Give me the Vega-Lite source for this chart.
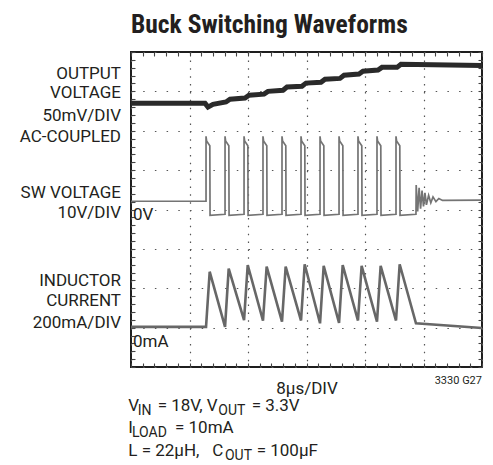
{
  "$schema": "https://vega.github.io/schema/vega-lite/v6.json",
  "autosize": {"type": "none"},
  "padding": {"left": 131, "top": 52, "right": 11, "bottom": 98},
  "width": 351,
  "height": 315,
  "background": "white",
  "title": {
    "text": "Buck Switching Waveforms",
    "anchor": "start",
    "frame": "group",
    "font": "Roboto Condensed, Roboto, sans-serif",
    "fontSize": 25.5,
    "fontWeight": "bold",
    "color": "#231f20",
    "offset": 13
  },
  "config": {
    "view": {"stroke": "#1e1e1e", "strokeWidth": 2},
    "font": "Roboto, sans-serif"
  },
  "datasets": {
    "traces": [
      {"s": "Vout", "i": 0, "t": 0, "v": 6.70},
      {"s": "Vout", "i": 1, "t": 10.12, "v": 6.70},
      {"s": "Vout", "i": 2, "t": 10.53, "v": 6.60},
      {"s": "Vout", "i": 3, "t": 11.21, "v": 6.67},
      {"s": "Vout", "i": 4, "t": 12.99, "v": 6.73},
      {"s": "Vout", "i": 5, "t": 13.54, "v": 6.80},
      {"s": "Vout", "i": 6, "t": 15.59, "v": 6.83},
      {"s": "Vout", "i": 7, "t": 16.14, "v": 6.90},
      {"s": "Vout", "i": 8, "t": 18.19, "v": 6.93},
      {"s": "Vout", "i": 9, "t": 18.73, "v": 7.00},
      {"s": "Vout", "i": 10, "t": 20.79, "v": 7.03},
      {"s": "Vout", "i": 11, "t": 21.33, "v": 7.11},
      {"s": "Vout", "i": 12, "t": 23.38, "v": 7.13},
      {"s": "Vout", "i": 13, "t": 23.93, "v": 7.21},
      {"s": "Vout", "i": 14, "t": 25.98, "v": 7.23},
      {"s": "Vout", "i": 15, "t": 26.53, "v": 7.31},
      {"s": "Vout", "i": 16, "t": 28.58, "v": 7.33},
      {"s": "Vout", "i": 17, "t": 29.13, "v": 7.41},
      {"s": "Vout", "i": 18, "t": 31.18, "v": 7.44},
      {"s": "Vout", "i": 19, "t": 31.72, "v": 7.51},
      {"s": "Vout", "i": 20, "t": 33.78, "v": 7.54},
      {"s": "Vout", "i": 21, "t": 34.32, "v": 7.61},
      {"s": "Vout", "i": 22, "t": 36.38, "v": 7.61},
      {"s": "Vout", "i": 23, "t": 36.92, "v": 7.69},
      {"s": "Vout", "i": 24, "t": 48, "v": 7.66},

      {"s": "SW", "i": 0, "t": 0, "v": 4.21},
      {"s": "SW", "i": 1, "t": 10.26, "v": 4.21},
      {"s": "SW", "i": 2, "t": 10.26, "v": 5.86},
      {"s": "SW", "i": 3, "t": 10.34, "v": 5.74},
      {"s": "SW", "i": 4, "t": 10.78, "v": 5.62},
      {"s": "SW", "i": 5, "t": 10.81, "v": 3.85},
      {"s": "SW", "i": 6, "t": 12.86, "v": 3.88},
      {"s": "SW", "i": 7, "t": 12.86, "v": 5.86},
      {"s": "SW", "i": 8, "t": 12.94, "v": 5.74},
      {"s": "SW", "i": 9, "t": 13.38, "v": 5.62},
      {"s": "SW", "i": 10, "t": 13.41, "v": 3.85},
      {"s": "SW", "i": 11, "t": 15.46, "v": 3.88},
      {"s": "SW", "i": 12, "t": 15.46, "v": 5.86},
      {"s": "SW", "i": 13, "t": 15.54, "v": 5.74},
      {"s": "SW", "i": 14, "t": 15.98, "v": 5.62},
      {"s": "SW", "i": 15, "t": 16.01, "v": 3.85},
      {"s": "SW", "i": 16, "t": 18.05, "v": 3.88},
      {"s": "SW", "i": 17, "t": 18.05, "v": 5.86},
      {"s": "SW", "i": 18, "t": 18.13, "v": 5.74},
      {"s": "SW", "i": 19, "t": 18.57, "v": 5.62},
      {"s": "SW", "i": 20, "t": 18.60, "v": 3.85},
      {"s": "SW", "i": 21, "t": 20.65, "v": 3.88},
      {"s": "SW", "i": 22, "t": 20.65, "v": 5.86},
      {"s": "SW", "i": 23, "t": 20.73, "v": 5.74},
      {"s": "SW", "i": 24, "t": 21.17, "v": 5.62},
      {"s": "SW", "i": 25, "t": 21.20, "v": 3.85},
      {"s": "SW", "i": 26, "t": 23.25, "v": 3.88},
      {"s": "SW", "i": 27, "t": 23.25, "v": 5.86},
      {"s": "SW", "i": 28, "t": 23.33, "v": 5.74},
      {"s": "SW", "i": 29, "t": 23.77, "v": 5.62},
      {"s": "SW", "i": 30, "t": 23.80, "v": 3.85},
      {"s": "SW", "i": 31, "t": 25.85, "v": 3.88},
      {"s": "SW", "i": 32, "t": 25.85, "v": 5.86},
      {"s": "SW", "i": 33, "t": 25.93, "v": 5.74},
      {"s": "SW", "i": 34, "t": 26.37, "v": 5.62},
      {"s": "SW", "i": 35, "t": 26.40, "v": 3.85},
      {"s": "SW", "i": 36, "t": 28.45, "v": 3.88},
      {"s": "SW", "i": 37, "t": 28.45, "v": 5.86},
      {"s": "SW", "i": 38, "t": 28.53, "v": 5.74},
      {"s": "SW", "i": 39, "t": 28.97, "v": 5.62},
      {"s": "SW", "i": 40, "t": 29.00, "v": 3.85},
      {"s": "SW", "i": 41, "t": 31.04, "v": 3.88},
      {"s": "SW", "i": 42, "t": 31.04, "v": 5.86},
      {"s": "SW", "i": 43, "t": 31.12, "v": 5.74},
      {"s": "SW", "i": 44, "t": 31.56, "v": 5.62},
      {"s": "SW", "i": 45, "t": 31.59, "v": 3.85},
      {"s": "SW", "i": 46, "t": 33.64, "v": 3.88},
      {"s": "SW", "i": 47, "t": 33.64, "v": 5.86},
      {"s": "SW", "i": 48, "t": 33.72, "v": 5.74},
      {"s": "SW", "i": 49, "t": 34.16, "v": 5.62},
      {"s": "SW", "i": 50, "t": 34.19, "v": 3.85},
      {"s": "SW", "i": 51, "t": 36.24, "v": 3.88},
      {"s": "SW", "i": 52, "t": 36.24, "v": 5.86},
      {"s": "SW", "i": 53, "t": 36.32, "v": 5.74},
      {"s": "SW", "i": 54, "t": 36.76, "v": 5.62},
      {"s": "SW", "i": 55, "t": 36.79, "v": 3.85},
      {"s": "SW", "i": 56, "t": 38.97, "v": 3.88},
      {"s": "SW", "i": 57, "t": 39.0, "v": 4.62},
      {"s": "SW", "i": 58, "t": 39.2, "v": 3.95},
      {"s": "SW", "i": 59, "t": 39.4, "v": 4.55},
      {"s": "SW", "i": 60, "t": 39.6, "v": 4.02},
      {"s": "SW", "i": 61, "t": 39.8, "v": 4.48},
      {"s": "SW", "i": 62, "t": 40.0, "v": 4.08},
      {"s": "SW", "i": 63, "t": 40.2, "v": 4.42},
      {"s": "SW", "i": 64, "t": 40.4, "v": 4.12},
      {"s": "SW", "i": 65, "t": 40.7, "v": 4.36},
      {"s": "SW", "i": 66, "t": 41.0, "v": 4.17},
      {"s": "SW", "i": 67, "t": 41.3, "v": 4.32},
      {"s": "SW", "i": 68, "t": 41.7, "v": 4.20},
      {"s": "SW", "i": 69, "t": 42.1, "v": 4.28},
      {"s": "SW", "i": 70, "t": 42.6, "v": 4.23},
      {"s": "SW", "i": 71, "t": 48, "v": 4.24},

      {"s": "IL", "i": 0, "t": 0, "v": 1.02},
      {"s": "IL", "i": 1, "t": 10.26, "v": 1.02},
      {"s": "IL", "i": 2, "t": 10.76, "v": 2.42},
      {"s": "IL", "i": 3, "t": 12.86, "v": 1.02},
      {"s": "IL", "i": 4, "t": 13.36, "v": 2.50},
      {"s": "IL", "i": 5, "t": 15.46, "v": 1.19},
      {"s": "IL", "i": 6, "t": 15.96, "v": 2.59},
      {"s": "IL", "i": 7, "t": 18.05, "v": 1.18},
      {"s": "IL", "i": 8, "t": 18.55, "v": 2.55},
      {"s": "IL", "i": 9, "t": 20.65, "v": 1.15},
      {"s": "IL", "i": 10, "t": 21.15, "v": 2.55},
      {"s": "IL", "i": 11, "t": 23.25, "v": 1.18},
      {"s": "IL", "i": 12, "t": 23.75, "v": 2.61},
      {"s": "IL", "i": 13, "t": 25.85, "v": 1.11},
      {"s": "IL", "i": 14, "t": 26.35, "v": 2.57},
      {"s": "IL", "i": 15, "t": 28.45, "v": 1.12},
      {"s": "IL", "i": 16, "t": 28.95, "v": 2.59},
      {"s": "IL", "i": 17, "t": 31.04, "v": 1.18},
      {"s": "IL", "i": 18, "t": 31.54, "v": 2.57},
      {"s": "IL", "i": 19, "t": 33.64, "v": 1.15},
      {"s": "IL", "i": 20, "t": 34.14, "v": 2.57},
      {"s": "IL", "i": 21, "t": 36.24, "v": 1.18},
      {"s": "IL", "i": 22, "t": 36.74, "v": 2.61},
      {"s": "IL", "i": 23, "t": 38.97, "v": 1.11},
      {"s": "IL", "i": 24, "t": 48, "v": 0.99}
    ],
    "notes": [
      {"role": "left", "text": "OUTPUT", "x": -1.37, "y": 7.45},
      {"role": "left", "text": "VOLTAGE", "x": -1.37, "y": 6.95},
      {"role": "left", "text": "50mV/DIV", "x": -1.37, "y": 6.37},
      {"role": "left", "text": "AC-COUPLED", "x": -1.37, "y": 5.83},
      {"role": "left", "text": "SW VOLTAGE", "x": -1.37, "y": 4.42},
      {"role": "left", "text": "10V/DIV", "x": -1.37, "y": 3.90},
      {"role": "left", "text": "INDUCTOR", "x": -1.37, "y": 2.19},
      {"role": "left", "text": "CURRENT", "x": -1.37, "y": 1.68},
      {"role": "left", "text": "200mA/DIV", "x": -1.37, "y": 1.11},
      {"role": "in", "text": "0V", "x": 0.27, "y": 3.86},
      {"role": "in", "text": "0mA", "x": 0.27, "y": 0.64},
      {"role": "code", "text": "3330 G27", "x": 48, "y": -0.355},
      {"role": "cond", "text": "V", "x": -0.37, "y": -0.99},
      {"role": "sub", "text": "IN", "x": 0.92, "y": -0.99},
      {"role": "cond", "text": "= 18V, V", "x": 3.65, "y": -0.99},
      {"role": "sub", "text": "OUT", "x": 11.94, "y": -0.99},
      {"role": "cond", "text": "= 3.3V", "x": 16.51, "y": -0.99},
      {"role": "cond", "text": "I", "x": -0.37, "y": -1.561},
      {"role": "sub", "text": "LOAD", "x": 0.14, "y": -1.561},
      {"role": "cond", "text": "= 10mA", "x": 6.02, "y": -1.561},
      {"role": "cond", "text": "L = 22µH,", "x": -0.37, "y": -2.132},
      {"role": "cond", "text": "C", "x": 11.12, "y": -2.132},
      {"role": "sub", "text": "OUT", "x": 12.85, "y": -2.132},
      {"role": "cond", "text": "= 100µF", "x": 17.19, "y": -2.132}
    ]
  },
  "layer": [
    {
      "data": {"name": "traces"},
      "transform": [{"filter": "datum.s === 'Vout'"}],
      "mark": {"type": "line", "color": "#2a2a2a", "strokeWidth": 5, "clip": true},
      "encoding": {
        "x": {
          "field": "t", "type": "quantitative",
          "scale": {"domain": [0, 48], "nice": false, "zero": false},
          "axis": {
            "orient": "bottom",
            "values": [0,1.6,3.2,4.8,6.4,8,9.6,11.2,12.8,14.4,16,17.6,19.2,20.8,22.4,24,25.6,27.2,28.8,30.4,32,33.6,35.2,36.8,38.4,40,41.6,43.2,44.8,46.4,48],
            "labels": false, "domain": false,
            "ticks": true, "tickSize": -4, "tickColor": "#444", "tickWidth": 1.1,
            "grid": true, "gridColor": "#555", "gridWidth": 1.2, "gridDash": [1.5, 6.375],
            "gridOpacity": {"condition": {"test": "abs(datum.value/8 - round(datum.value/8)) < 0.01", "value": 1}, "value": 0},
            "title": "8µs/DIV", "titleFont": "Roboto, sans-serif", "titleFontSize": 17, "titleFontWeight": "normal", "titleColor": "#231f20", "titlePadding": 13
          }
        },
        "y": {
          "field": "v", "type": "quantitative",
          "scale": {"domain": [0, 8], "nice": false, "zero": false},
          "axis": {
            "orient": "left",
            "values": [0,0.2,0.4,0.6,0.8,1,1.2,1.4,1.6,1.8,2,2.2,2.4,2.6,2.8,3,3.2,3.4,3.6,3.8,4,4.2,4.4,4.6,4.8,5,5.2,5.4,5.6,5.8,6,6.2,6.4,6.6,6.8,7,7.2,7.4,7.6,7.8,8],
            "labels": false, "domain": false,
            "ticks": true, "tickSize": -4, "tickColor": "#444", "tickWidth": 1.1,
            "grid": true, "gridColor": "#555", "gridWidth": 1.2, "gridDash": [1.5, 10.2],
            "gridOpacity": {"condition": {"test": "abs(datum.value - round(datum.value)) < 0.01", "value": 1}, "value": 0},
            "title": null
          }
        },
        "order": {"field": "i", "type": "quantitative"}
      }
    },
    {
      "data": {"name": "traces"},
      "transform": [{"filter": "datum.s === 'SW'"}],
      "mark": {"type": "line", "color": "#747474", "strokeWidth": 1.7, "clip": true},
      "encoding": {
        "x": {
          "field": "t", "type": "quantitative",
          "axis": {
            "orient": "top",
            "values": [0,1.6,3.2,4.8,6.4,8,9.6,11.2,12.8,14.4,16,17.6,19.2,20.8,22.4,24,25.6,27.2,28.8,30.4,32,33.6,35.2,36.8,38.4,40,41.6,43.2,44.8,46.4,48],
            "labels": false, "domain": false, "grid": false,
            "ticks": true, "tickSize": -4, "tickColor": "#444", "tickWidth": 1.1, "title": null
          }
        },
        "y": {
          "field": "v", "type": "quantitative",
          "axis": {
            "orient": "right",
            "values": [0,0.2,0.4,0.6,0.8,1,1.2,1.4,1.6,1.8,2,2.2,2.4,2.6,2.8,3,3.2,3.4,3.6,3.8,4,4.2,4.4,4.6,4.8,5,5.2,5.4,5.6,5.8,6,6.2,6.4,6.6,6.8,7,7.2,7.4,7.6,7.8,8],
            "labels": false, "domain": false, "grid": false,
            "ticks": true, "tickSize": -4, "tickColor": "#444", "tickWidth": 1.1, "title": null
          }
        },
        "order": {"field": "i", "type": "quantitative"}
      }
    },
    {
      "data": {"name": "traces"},
      "transform": [{"filter": "datum.s === 'IL'"}],
      "mark": {"type": "line", "color": "#676767", "strokeWidth": 2.6, "clip": true},
      "encoding": {
        "x": {"field": "t", "type": "quantitative", "axis": null},
        "y": {"field": "v", "type": "quantitative", "axis": null},
        "order": {"field": "i", "type": "quantitative"}
      }
    },
    {
      "data": {"name": "notes"},
      "transform": [{"filter": "datum.role === 'left'"}],
      "mark": {"type": "text", "align": "right", "baseline": "middle", "fontSize": 17, "color": "#231f20"},
      "encoding": {
        "x": {"field": "x", "type": "quantitative", "axis": null},
        "y": {"field": "y", "type": "quantitative", "axis": null},
        "text": {"field": "text"}
      }
    },
    {
      "data": {"name": "notes"},
      "transform": [{"filter": "datum.role === 'in' || datum.role === 'cond'"}],
      "mark": {"type": "text", "align": "left", "baseline": "middle", "fontSize": 17, "color": "#231f20"},
      "encoding": {
        "x": {"field": "x", "type": "quantitative", "axis": null},
        "y": {"field": "y", "type": "quantitative", "axis": null},
        "text": {"field": "text"}
      }
    },
    {
      "data": {"name": "notes"},
      "transform": [{"filter": "datum.role === 'sub'"}],
      "mark": {"type": "text", "align": "left", "baseline": "middle", "fontSize": 14, "dy": 5, "color": "#231f20"},
      "encoding": {
        "x": {"field": "x", "type": "quantitative", "axis": null},
        "y": {"field": "y", "type": "quantitative", "axis": null},
        "text": {"field": "text"}
      }
    },
    {
      "data": {"name": "notes"},
      "transform": [{"filter": "datum.role === 'code'"}],
      "mark": {"type": "text", "align": "right", "baseline": "middle", "fontSize": 11, "color": "#231f20"},
      "encoding": {
        "x": {"field": "x", "type": "quantitative", "axis": null},
        "y": {"field": "y", "type": "quantitative", "axis": null},
        "text": {"field": "text"}
      }
    }
  ],
  "resolve": {"axis": {"x": "independent", "y": "independent"}}
}
